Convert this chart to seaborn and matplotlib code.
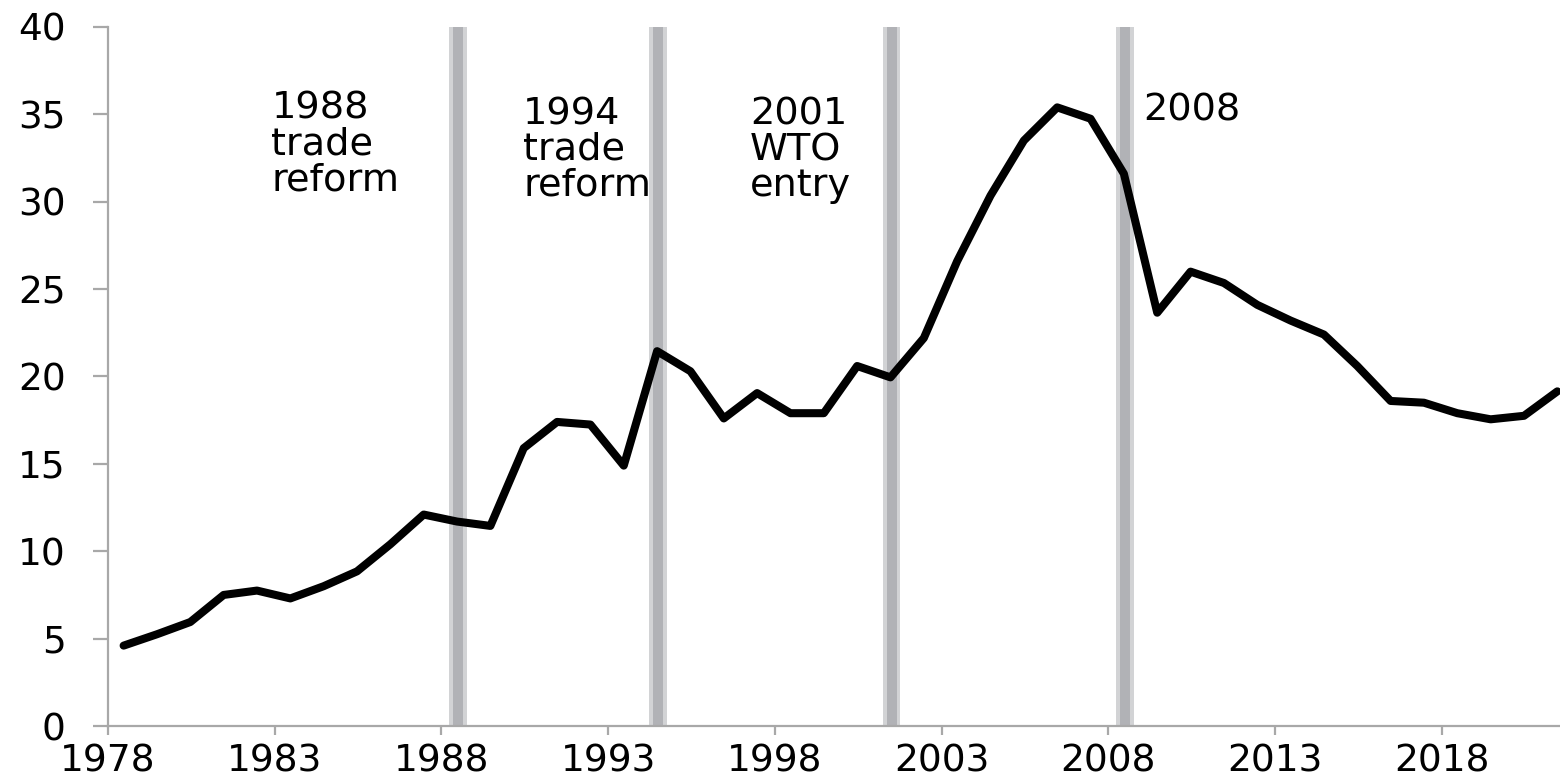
### Chart: share series with reform / WTO / crisis markers

import numpy as np
import pandas as pd
import seaborn as sns
import matplotlib.pyplot as plt

# 1. The data
years = list(range(1978, 2022))
values = [4.6, 5.25, 5.95, 7.5, 7.75, 7.3, 8.0, 8.85, 10.4, 12.1,
          11.7, 11.45, 15.9, 17.4, 17.25, 14.9, 21.45, 20.3, 17.6, 19.05,
          17.9, 17.9, 20.6, 19.95, 22.2, 26.6, 30.35, 33.5, 35.4, 34.75,
          31.6, 23.65, 26.0, 25.35, 24.1, 23.2, 22.4, 20.6, 18.6, 18.5,
          17.9, 17.55, 17.75, 19.15]

event_years = [1988, 1994, 2001, 2008]
event_labels = ["1988\ntrade\nreform", "1994\ntrade\nreform", "2001\nWTO\nentry", "2008"]
label_x = [1982.9, 1990.45, 1997.25, 2009.05]
label_y = [36.35, 36.05, 36.0, 36.25]

y_ticks = [0, 5, 10, 15, 20, 25, 30, 35, 40]
x_ticks = list(range(1978, 2019, 5))

df = pd.DataFrame({"year": np.array(years) + 0.47, "value": values})

# 2. Style
sns.set_theme(style="white")
plt.rcParams["font.family"] = ["DejaVu Sans"]
axis_grey = "#a8a8a8"

fig = plt.figure(figsize=(15.6, 7.82), dpi=100)
ax = fig.add_axes([0.0692, 0.0716, 0.9308, 0.8939])

# 3. The event bands (light edge, darker core)
for yr in event_years:
    ax.axvspan(yr + 0.235, yr + 0.765, color="#d2d3d5", lw=0, zorder=1)
    ax.axvspan(yr + 0.36, yr + 0.66, color="#b1b2b6", lw=0, zorder=2)

# 4. The line
sns.lineplot(data=df, x="year", y="value", color="black", linewidth=5.8, ax=ax, zorder=3)

for x, y, t in zip(label_x, label_y, event_labels):
    ax.text(x, y, t, fontsize=27.5, ha="left", va="top", linespacing=0.99, color="black")

ax.set_xlim(1978, 2021.55)
ax.set_ylim(0, 40)
ax.set_xticks(x_ticks)
ax.set_yticks(y_ticks)
ax.set_xlabel("")
ax.set_ylabel("")

for side in ["top", "right"]:
    ax.spines[side].set_visible(False)
for side in ["left", "bottom"]:
    ax.spines[side].set_color(axis_grey)
    ax.spines[side].set_linewidth(1.6)

ax.tick_params(axis="x", direction="out", length=6.5, width=1.6, color=axis_grey,
               labelsize=27, labelcolor="black", pad=6, bottom=True)
ax.tick_params(axis="y", direction="out", length=10.5, width=1.6, color=axis_grey,
               labelsize=27, labelcolor="black", pad=20, left=True)

fig.savefig("out.png", dpi=100)
